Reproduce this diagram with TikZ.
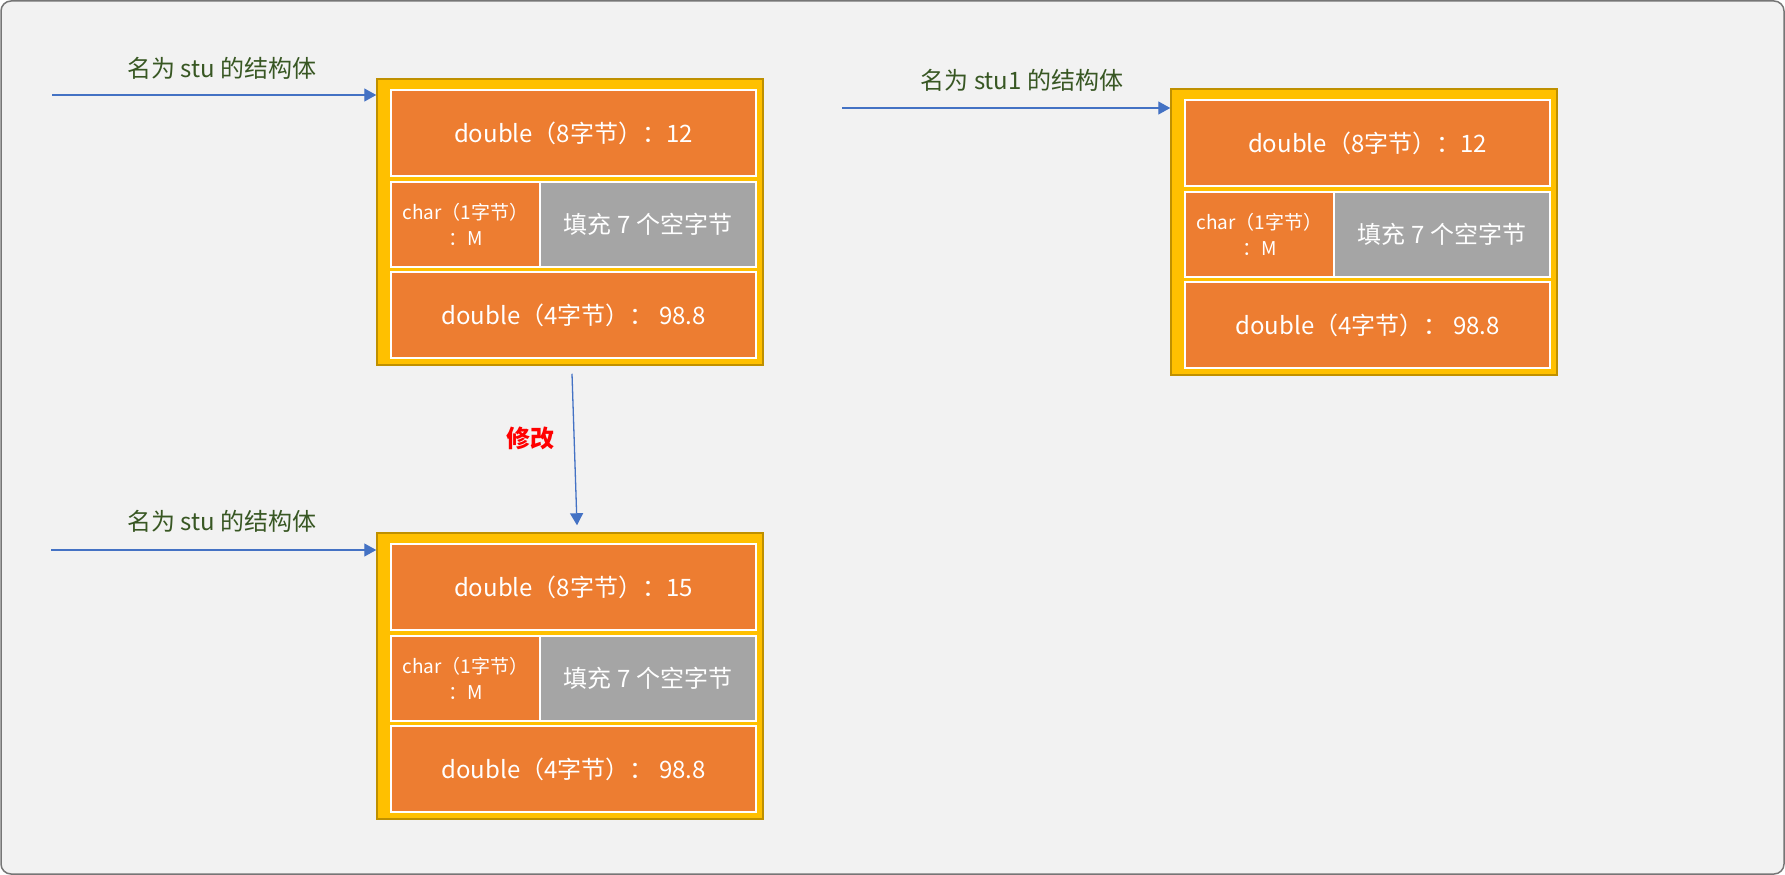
\documentclass[tikz,border=0pt]{standalone}
\usepackage{fontspec}
\setmainfont{Noto Sans CJK SC}
\usetikzlibrary{arrows.meta}
\definecolor{bgGray}{HTML}{F2F2F2}
\definecolor{frameGray}{HTML}{767676}
\definecolor{cellOrange}{HTML}{ED7D31}
\definecolor{padGray}{HTML}{A5A5A5}
\definecolor{boxGold}{HTML}{FFC000}
\definecolor{boxEdge}{HTML}{BF9000}
\definecolor{arrowBlue}{HTML}{4472C4}
\definecolor{labelGreen}{HTML}{385723}

\tikzset{
  structbox/.style={draw=boxEdge, fill=boxGold, line width=1.5pt, inner sep=0pt,
    minimum width=386pt, minimum height=286pt},
  cell/.style={draw=white, fill=cellOrange, line width=2pt, text=white, inner sep=0pt,
    font=\fontsize{24}{28}\selectfont},
  padcell/.style={cell, fill=padGray},
  ptr/.style={arrowBlue, line width=1.3pt, -{Triangle[length=12pt,width=13pt]}},
  namelabel/.style={text=labelGreen, font=\fontsize{24}{28}\selectfont}
}

% one struct in memory: name, top-left x, top-left y, value of the first double
\newcommand{\memstruct}[4]{%
  \begin{scope}[shift={(#2,#3)}]
    \node[structbox] (#1) at (193,143) {};
    \node[cell, minimum width=365pt, minimum height=86pt] (#1-d8) at (196.5,54) {double（8字节）：#4};
    \node[cell, minimum width=149pt, minimum height=85pt, align=center,
      font=\fontsize{19}{26}\selectfont] (#1-c) at (88.5,145.5) {char（1字节）\\：M};
    \node[padcell, minimum width=216pt, minimum height=85pt] (#1-pad) at (271,145.5) {填充 7 个空字节};
    \node[cell, minimum width=365pt, minimum height=86pt] (#1-d4) at (196.5,236) {double（4字节）： 98.8};
  \end{scope}}

\begin{document}
\begin{tikzpicture}[x=1pt, y=-1pt]
  % Frame
  \useasboundingbox (0,0) rectangle (1785,875);
  \draw[frameGray, fill=bgGray, line width=1.5pt, rounded corners=10pt] (1,1) rectangle (1784,874);
  % Structs
  \memstruct{stu}{377}{79}{12}
  \memstruct{stuone}{1171}{89}{12}
  \memstruct{stunew}{377}{533}{15}
  % Names
  \coordinate (stuptr) at (52,95);
  \coordinate (stuoneptr) at (842,108);
  \coordinate (stunewptr) at (51,550);
  \draw[ptr] (stuptr) -- (stuptr -| stu.west);
  \draw[ptr] (stuoneptr) -- (stuoneptr -| stuone.west);
  \draw[ptr] (stunewptr) -- (stunewptr -| stunew.west);
  \node[namelabel] (stuname) at (222,68) {名为 stu 的结构体};
  \node[namelabel] (stuonename) at (1022,80) {名为 stu1 的结构体};
  \node[namelabel] (stunewname) at (222,521) {名为 stu 的结构体};
  % Modification
  \draw[ptr] ([shift={(2,8)}]stu.south) -- ([shift={(7,-7)}]stunew.north);
  \node[text=red, font=\fontsize{24}{28}\selectfont\bfseries] (edit) at (530,438) {修改};
\end{tikzpicture}
\end{document}
